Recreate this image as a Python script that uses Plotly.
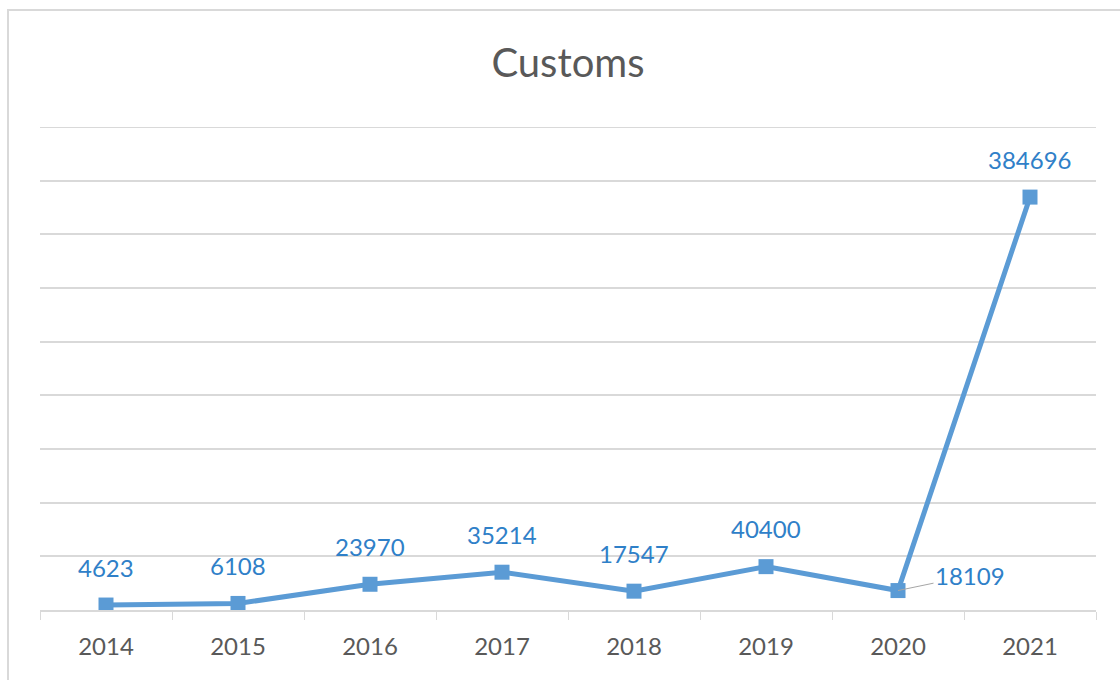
import plotly.graph_objects as go

# Annual customs figures
years = ["2014", "2015", "2016", "2017", "2018", "2019", "2020", "2021"]
values = [4623, 6108, 23970, 35214, 17547, 40400, 18109, 384696]
y_max = 450000
y_step = 50000

LINE_BLUE = "#5b9bd5"
LABEL_BLUE = "#2f80c8"
GRID = "#d9d9d9"
TEXT_GREY = "#595959"
FONT = "Lato, 'Open Sans', sans-serif"

W, H = 1120, 680
ML, MR, MT, MB = 40, 24, 127, 70

fig = go.Figure()
fig.add_trace(go.Scatter(
    x=years, y=values, mode="lines+markers",
    line=dict(color=LINE_BLUE, width=5),
    marker=dict(symbol="square", size=15, color=LINE_BLUE),
    hoverinfo="x+y", showlegend=False,
))

# Value labels above each point; the 2020 label sits to the right with a leader line.
# Category positions are given by index so numeric-looking names are not misread.
annotations = []
for i, (yr, v) in enumerate(zip(years, values)):
    if yr == "2020":
        annotations.append(dict(
            x=i, y=v, xref="x", yref="y", text=str(v),
            showarrow=True, arrowhead=0, arrowwidth=1, arrowcolor="#a6a6a6",
            ax=72, ay=-15, font=dict(family=FONT, size=24, color=LABEL_BLUE),
        ))
    else:
        annotations.append(dict(
            x=i, y=v, xref="x", yref="y", text=str(v), showarrow=False,
            yshift=38, yanchor="middle",
            font=dict(family=FONT, size=24, color=LABEL_BLUE),
        ))

# Outer chart frame, partly running past the page edges
pw = W - ML - MR
ph = H - MT - MB
x0 = (8 - ML) / pw
y1 = (H - MB - 10) / ph
shapes = [
    dict(type="rect", xref="paper", yref="paper",
         x0=x0, x1=1.2, y0=-0.3, y1=y1,
         line=dict(color=GRID, width=2), layer="below"),
    # gridline at the top of the value range (plotly skips it at the edge)
    dict(type="line", xref="paper", yref="y", x0=0, x1=1, y0=y_max, y1=y_max,
         line=dict(color=GRID, width=2), layer="below"),
]

fig.update_layout(
    width=W, height=H,
    margin=dict(l=ML, r=MR, t=MT, b=MB),
    paper_bgcolor="white", plot_bgcolor="white",
    title=dict(text="Customs", x=(ML + pw / 2) / W, xanchor="center",
               y=1 - 63 / H, yanchor="middle",
               font=dict(family=FONT, size=40, color=TEXT_GREY)),
    annotations=annotations,
    shapes=shapes,
    xaxis=dict(type="category", range=[-0.5, 7.5],
               showgrid=False, showline=True, linecolor=GRID, linewidth=2,
               ticks="outside", tickson="boundaries", ticklen=8,
               tickcolor=GRID, tickwidth=1, ticklabelstandoff=14,
               tickfont=dict(family=FONT, size=24, color=TEXT_GREY)),
    yaxis=dict(range=[0, y_max], tick0=0, dtick=y_step, showticklabels=False,
               showgrid=True, gridcolor=GRID, gridwidth=2, zeroline=False),
)

fig.write_html("out.html")
